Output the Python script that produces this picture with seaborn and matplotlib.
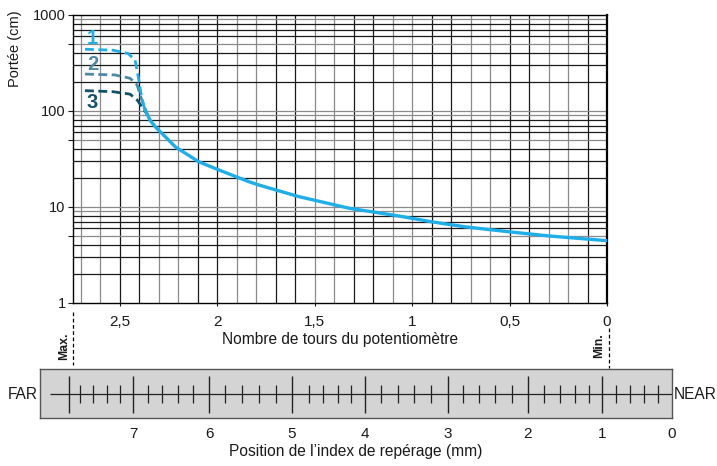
import matplotlib
matplotlib.use("Agg")
import matplotlib.pyplot as plt
import matplotlib.transforms as mtransforms
import pandas as pd
import seaborn as sns

# courbes : nombre de tours -> portée (cm)
tours_1 = [2.677, 2.533, 2.456, 2.42, 2.404, 2.387, 2.372, 2.359]
portee_1 = [437, 427, 395, 336, 226, 140, 106, 92]
tours_2 = [2.677, 2.523, 2.446, 2.41, 2.385, 2.359]
portee_2 = [241, 236, 218, 186, 129, 92]
tours_3 = [2.677, 2.533, 2.446, 2.41, 2.385, 2.359]
portee_3 = [162, 158, 149, 130, 110, 92]
tours_main = [2.372, 2.344, 2.316, 2.213, 2.094, 1.99, 1.837, 1.786,
              1.581, 1.324, 1.068, 0.9, 0.728, 0.5, 0.297, 0.0]
portee_main = [106, 80, 68, 42, 29.5, 24.2, 18.3, 16.9,
               12.8, 9.7, 8.04, 7.0, 6.2, 5.5, 4.98, 4.45]

x_ticks = [2.5, 2, 1.5, 1, 0.5, 0]
x_ticklabels = ["2,5", "2", "1,5", "1", "0,5", "0"]
y_ticks = [1, 10, 100, 1000]
y_ticklabels = ["1", "10", "100", "1000"]

# réglette : position de l'index (mm) placée en nombre de tours
ruler_labels = ["7", "6", "5", "4", "3", "2", "1", "0"]
ruler_label_pos = [2.431, 2.039, 1.617, 1.241, 0.817, 0.407, 0.024, -0.333]
ruler_major = [2.759, 2.431, 2.039, 1.617, 1.241, 0.817, 0.407, 0.024]
ruler_minor = [2.703, 2.634, 2.566, 2.497, 2.354, 2.281, 2.198, 2.122,
               1.959, 1.870, 1.785, 1.699, 1.527, 1.455, 1.381, 1.313,
               1.159, 1.073, 0.988, 0.903, 0.737, 0.656, 0.574, 0.489,
               0.322, 0.241, 0.164, 0.092, -0.046, -0.118, -0.191, -0.260]

C1 = "#1eaee8"
C2 = "#4e8aa6"
C3 = "#13536a"

sns.set_style("white")
plt.rcParams["font.family"] = ["Liberation Sans", "DejaVu Sans"]
plt.rcParams["font.size"] = 11
plt.rcParams["text.color"] = "#1a1a1a"
plt.rcParams["axes.labelcolor"] = "#1a1a1a"
plt.rcParams["xtick.color"] = "#1a1a1a"
plt.rcParams["ytick.color"] = "#1a1a1a"

fig = plt.figure(figsize=(7.17, 4.66), dpi=100)
ax = fig.add_axes([0.1014, 0.3498, 0.7452, 0.6187])
ax.set_yscale("log")
ax.set_xlim(2.74, 0)
ax.set_ylim(1, 1000)

# quadrillage
vx = [k / 10 for k in range(1, 28)]
vcol = ["#8a8a8a" if (k // 2) % 2 else "#1a1a1a" for k in range(1, 28)]
ax.vlines(vx, 1, 1000, colors=vcol, lw=0.9, zorder=1)
hy, hcol = [], []
for dec in [1, 10, 100]:
    for m in range(1, 10):
        if dec == 1 and m == 1:
            continue
        hy.append(dec * m)
        hcol.append("#8a8a8a" if m in (1, 5, 9) else "#1a1a1a")
ax.hlines(hy, 2.74, 0, colors=hcol, lw=0.9, zorder=1)

df_main = pd.DataFrame({"tours": tours_main, "portee": portee_main})
sns.lineplot(data=df_main, x="tours", y="portee", ax=ax, color=C1, lw=2.4,
             sort=False, zorder=4)
for t, p, c in [(tours_3, portee_3, C3), (tours_2, portee_2, C2), (tours_1, portee_1, C1)]:
    d = pd.DataFrame({"tours": t, "portee": p})
    sns.lineplot(data=d, x="tours", y="portee", ax=ax, color=c, lw=2.0,
                 sort=False, zorder=3, dashes=False, linestyle=(0, (3.2, 1.6)))

ax.text(2.641, 568, "1", color=C1, fontsize=14.5, fontweight="bold", ha="center", va="center", zorder=5)
ax.text(2.637, 300, "2", color=C2, fontsize=14.5, fontweight="bold", ha="center", va="center", zorder=5)
ax.text(2.639, 122, "3", color=C3, fontsize=14.5, fontweight="bold", ha="center", va="center", zorder=5)

for s in ax.spines.values():
    s.set_color("black")
    s.set_linewidth(1.0)
ax.spines["right"].set_linewidth(1.6)

ax.set_xticks(x_ticks)
ax.set_xticklabels(x_ticklabels)
ax.set_yticks(y_ticks)
ax.set_yticklabels(y_ticklabels)
ax.set_yticks([5, 50, 500], minor=True)
ax.yaxis.set_minor_formatter(plt.NullFormatter())
ax.tick_params(axis="x", which="both", direction="out", length=2.5, width=0.8,
               pad=6, bottom=True, labelsize=11)
ax.tick_params(axis="y", which="both", direction="out", length=3.6, width=0.8,
               pad=1.5, left=True, labelsize=10.5)
ax.set_xlabel("Nombre de tours du potentiomètre", fontsize=11.2, labelpad=2)
ax.set_ylabel("")
fig.text(15 / 717, 1 - 49 / 466, "Portée (cm)", rotation=90, ha="center", va="center", fontsize=10.5)

# repères Max. / Min.
tr = mtransforms.blended_transform_factory(ax.transData, ax.transAxes)
ax.plot([2.74, 2.74], [-0.030, -0.215], transform=tr, color="black", lw=0.9,
        ls=(0, (3, 2)), clip_on=False)
ax.plot([-0.01, -0.01], [-0.087, -0.225], transform=tr, color="black", lw=0.9,
        ls=(0, (3, 2)), clip_on=False)
ax.text(2.783, -0.149, "Max.", transform=tr, rotation=90, fontsize=8.8,
        fontweight="bold", ha="center", va="center")
ax.text(0.0395, -0.148, "Min.", transform=tr, rotation=90, fontsize=8.8,
        fontweight="bold", ha="center", va="center")

# réglette
rx = fig.add_axes([0.0558, 0.1024, 0.8815, 0.1052])
rx.set_facecolor("#d4d4d4")
rx.set_xlim(2.9077, -0.3333)
rx.set_ylim(0, 1)
for s in rx.spines.values():
    s.set_color("#555555")
    s.set_linewidth(1.0)
rx.hlines(0.49, 2.856, -0.3333, color="#222222", lw=0.9)
rx.vlines(ruler_major, 0.102, 0.869, color="#222222", lw=1.0)
rx.vlines(ruler_minor, 0.312, 0.680, color="#222222", lw=0.9)
rx.set_yticks([])
rx.set_xticks(ruler_label_pos)
rx.set_xticklabels(ruler_labels)
rx.tick_params(axis="x", length=0, pad=6.5, labelsize=11)
rx.set_xlabel("Position de l\u2019index de repérage (mm)", fontsize=11.2, labelpad=2)
rx.text(-0.004, 0.49, "FAR", transform=rx.transAxes, ha="right", va="center", fontsize=11.2)
rx.text(1.002, 0.49, "NEAR", transform=rx.transAxes, ha="left", va="center", fontsize=11.2)

fig.savefig("out.png", dpi=100)
